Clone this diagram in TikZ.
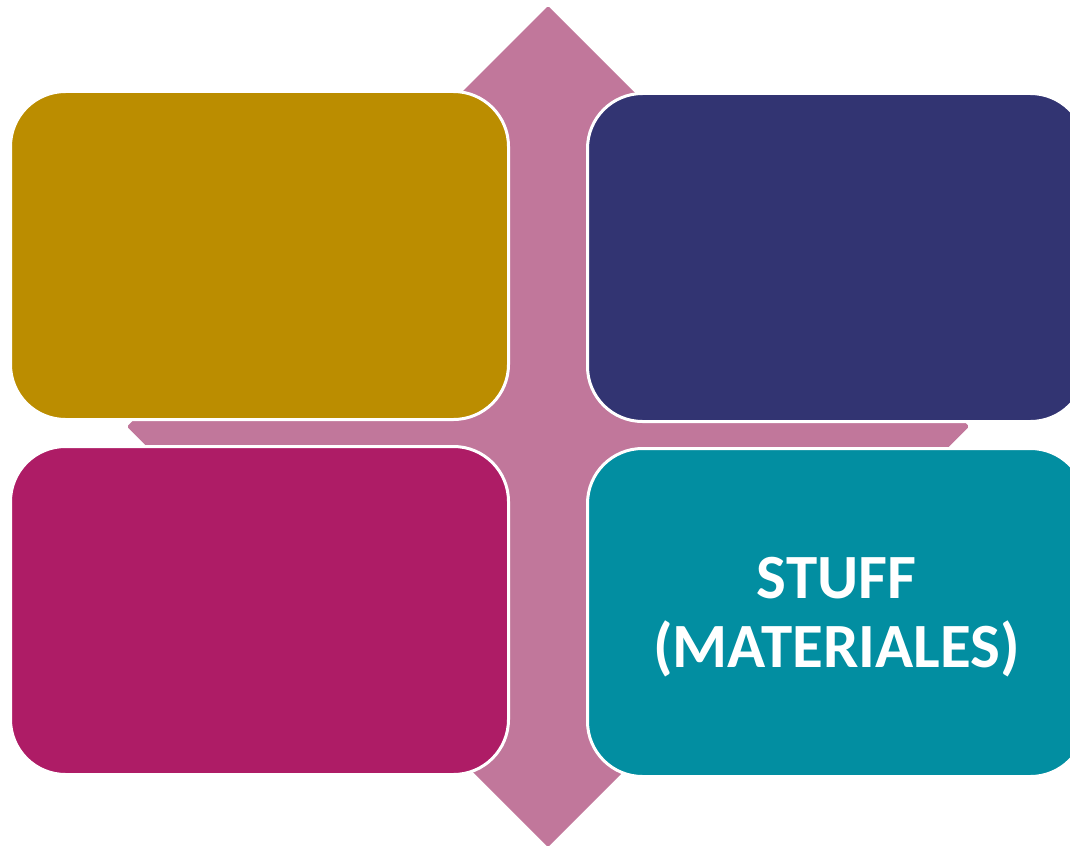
\documentclass[tikz,border=0pt]{standalone}
\usepackage{fontspec}
\setmainfont{Carlito}
\definecolor{cgold}{RGB}{187,141,0}
\definecolor{cnavy}{RGB}{50,52,114}
\definecolor{cmag}{RGB}{174,28,102}
\definecolor{cteal}{RGB}{2,142,161}
\definecolor{cpink}{RGB}{193,119,155}
\tikzset{
  mbox/.style={draw=white, line width=3pt, rounded corners=55pt,
    minimum width=498pt, minimum height=328pt, inner sep=0pt},
  lbl/.style={text=white, align=center, yshift=-5pt,
    font=\bfseries\fontsize{63}{69}\selectfont},
  quad/.style={fill=cpink, draw=none}
}
\begin{document}
\begin{tikzpicture}[x=1pt,y=-1pt]
\clip (0,0) rectangle (1070,848);
\fill[white] (0,0) rectangle (1070,848);
% quad arrow behind
\fill[quad, rounded corners=1.5pt]
  (548,6) -- (708,166) -- (598,166) -- (598,376.5) -- (809,376.5) -- (809,266.5)
  -- (969,426.5) -- (809,586.5) -- (809,476.5) -- (598,476.5) -- (598,687)
  -- (708,687) -- (548,847) -- (388,687) -- (498,687) -- (498,476.5)
  -- (287,476.5) -- (287,586.5) -- (127,426.5) -- (287,266.5) -- (287,376.5)
  -- (498,376.5) -- (498,166) -- (388,166) -- cycle;
% boxes
\node[mbox, fill=cgold] (tl) at (259.5,255.5) {};
\node[mbox, fill=cnavy] (tr) at (836.5,257.5) {};
\node[mbox, fill=cmag] (bl) at (259.5,610.5) {};
\node[mbox, fill=cteal, label={[lbl, name=brtext]center:STUFF\\(MATERIALES)}] (br) at (836.5,612.5) {};
\end{tikzpicture}
\end{document}
